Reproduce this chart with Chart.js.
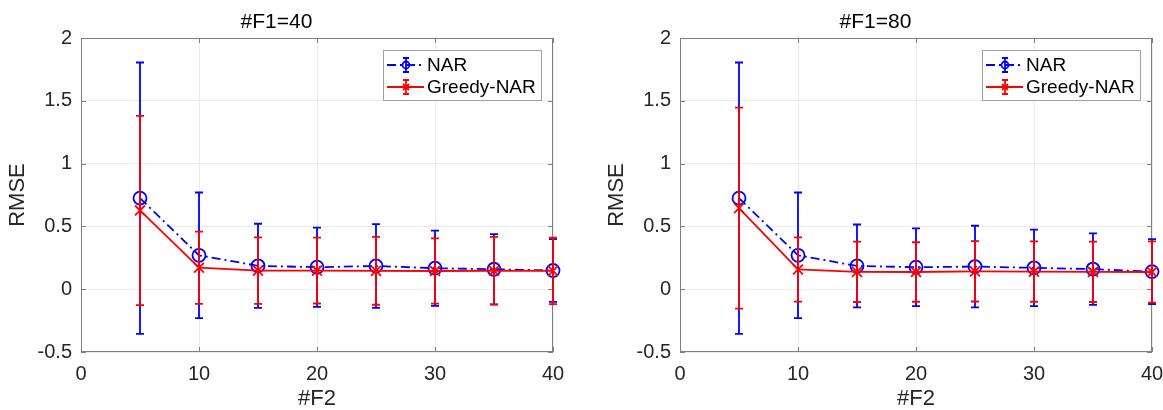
<!DOCTYPE html>
<html>
<head>
<meta charset="utf-8">
<script src="https://cdn.jsdelivr.net/npm/chart.js@4.4.1/dist/chart.umd.min.js"></script>
<style>
  body { margin: 0; background: #fff; }
  #wrap { position: relative; width: 1163px; height: 410px; }
  .pane { position: absolute; top: 0; width: 564px; height: 410px; }
</style>
</head>
<body>
<div id="wrap">
  <div class="pane" style="left:0"><canvas id="chartF1_40" width="564" height="410"></canvas></div>
  <div class="pane" style="left:599px"><canvas id="chartF1_80" width="564" height="410"></canvas></div>
</div>
<script>
// valores
const f2 = [5, 10, 15, 20, 25, 30, 35, 40];
const yTicks = [-0.5, 0, 0.5, 1, 1.5, 2];
const xTicks = [0, 10, 20, 30, 40];

// #F1=40
const narMean40 = [0.725, 0.27, 0.186, 0.175, 0.185, 0.167, 0.159, 0.149];
const narErr40 = [1.08, 0.50, 0.335, 0.315, 0.333, 0.30, 0.28, 0.25];
const greedyMean40 = [0.627, 0.171, 0.148, 0.148, 0.146, 0.145, 0.147, 0.146];
const greedyErr40 = [0.753, 0.288, 0.265, 0.262, 0.27, 0.26, 0.27, 0.265];

// #F1=80
const narMean80 = [0.725, 0.27, 0.185, 0.175, 0.18, 0.170, 0.160, 0.140];
const narErr80 = [1.08, 0.50, 0.33, 0.31, 0.325, 0.305, 0.285, 0.258];
const greedyMean80 = [0.645, 0.157, 0.138, 0.137, 0.142, 0.140, 0.138, 0.137];
const greedyErr80 = [0.80, 0.256, 0.24, 0.237, 0.24, 0.24, 0.24, 0.244];

const FONT = "'Liberation Sans', Arial, Helvetica, sans-serif";
const TXT = '#262626';
const AXIS = '#7f7f7f';
const BLUE = '#0000ff';
const RED = '#ff0000';
const LW = 1.8;

// barras de error dibujadas antes de cada serie
const errorBars = {
    id: 'errorBars',
    beforeDatasetDraw(chart, args) {
        const ds = chart.data.datasets[args.index];
        if (!ds.errors) return;
        const ctx = chart.ctx;
        const y = chart.scales.y;
        ctx.save();
        ctx.strokeStyle = ds.borderColor;
        ctx.lineWidth = LW;
        ctx.setLineDash([]);
        args.meta.data.forEach((pt, i) => {
            const v = ds.data[i].y;
            const e = ds.errors[i];
            const top = y.getPixelForValue(v + e);
            const bot = y.getPixelForValue(v - e);
            ctx.beginPath();
            ctx.moveTo(pt.x, top); ctx.lineTo(pt.x, bot);
            ctx.moveTo(pt.x - 4, top); ctx.lineTo(pt.x + 4, top);
            ctx.moveTo(pt.x - 4, bot); ctx.lineTo(pt.x + 4, bot);
            ctx.stroke();
        });
        ctx.restore();
    }
};

// caja de ejes estilo MATLAB con marcas hacia dentro
const axesBox = {
    id: 'axesBox',
    beforeDatasetsDraw(chart) {
        const { ctx, chartArea: a, scales } = chart;
        ctx.save();
        ctx.strokeStyle = AXIS;
        ctx.lineWidth = 1;
        ctx.strokeRect(a.left + 0.5, a.top + 0.5, a.right - a.left - 1, a.bottom - a.top - 1);
        ctx.beginPath();
        xTicks.forEach(t => {
            const px = Math.round(scales.x.getPixelForValue(t)) + 0.5;
            ctx.moveTo(px, a.bottom); ctx.lineTo(px, a.bottom - 5);
            ctx.moveTo(px, a.top); ctx.lineTo(px, a.top + 5);
        });
        yTicks.forEach(t => {
            const py = Math.round(scales.y.getPixelForValue(t)) + 0.5;
            ctx.moveTo(a.left, py); ctx.lineTo(a.left + 5, py);
            ctx.moveTo(a.right, py); ctx.lineTo(a.right - 5, py);
        });
        ctx.stroke();
        ctx.restore();
    }
};

// leyenda dentro del area, arriba a la derecha
const boxLegend = {
    id: 'boxLegend',
    afterDraw(chart) {
        const { ctx, chartArea: a } = chart;
        const w = 158, h = 50;
        const x0 = a.right - 12 - w, y0 = a.top + 12;
        ctx.save();
        ctx.fillStyle = '#fff';
        ctx.fillRect(x0, y0, w, h);
        ctx.strokeStyle = '#a0a0a0';
        ctx.lineWidth = 1;
        ctx.strokeRect(x0 + 0.5, y0 + 0.5, w, h);
        chart.data.datasets.forEach((ds, i) => {
            const cy = y0 + 15 + i * 22;
            const lx0 = x0 + 4, lx1 = x0 + 41, mx = x0 + 23;
            ctx.strokeStyle = ds.borderColor;
            ctx.lineWidth = LW;
            ctx.setLineDash(ds.borderDash || []);
            ctx.beginPath(); ctx.moveTo(lx0, cy); ctx.lineTo(lx1, cy); ctx.stroke();
            ctx.setLineDash([]);
            ctx.beginPath();
            ctx.moveTo(mx, cy - 7); ctx.lineTo(mx, cy + 7);
            ctx.moveTo(mx - 3, cy - 7); ctx.lineTo(mx + 3, cy - 7);
            ctx.moveTo(mx - 3, cy + 7); ctx.lineTo(mx + 3, cy + 7);
            ctx.stroke();
            ctx.beginPath();
            if (ds.pointStyle === 'circle') {
                ctx.arc(mx, cy, 3.5, 0, Math.PI * 2);
            } else {
                ctx.moveTo(mx - 3, cy - 3); ctx.lineTo(mx + 3, cy + 3);
                ctx.moveTo(mx + 3, cy - 3); ctx.lineTo(mx - 3, cy + 3);
                ctx.moveTo(mx - 3, cy); ctx.lineTo(mx + 3, cy);
            }
            ctx.stroke();
            ctx.fillStyle = '#000';
            ctx.font = '19px ' + FONT;
            ctx.textBaseline = 'middle';
            ctx.fillText(ds.label, x0 + 44, cy + 1);
        });
        ctx.restore();
    }
};

function makeChart(id, title, narMean, narErr, greedyMean, greedyErr) {
    const ctx = document.getElementById(id).getContext('2d');
    return new Chart(ctx, {
        type: 'line',
        data: {
            datasets: [{
                label: 'NAR',
                data: f2.map((x, i) => ({ x: x, y: narMean[i] })),
                errors: narErr,
                borderColor: BLUE,
                backgroundColor: 'rgba(0,0,0,0)',
                borderWidth: LW,
                borderDash: [9, 4, 2, 4],
                pointStyle: 'circle',
                pointRadius: 6.5,
                pointBorderWidth: LW,
                pointBorderColor: BLUE,
                pointBackgroundColor: 'rgba(0,0,0,0)',
                clip: false,
                order: 2
            }, {
                label: 'Greedy-NAR',
                data: f2.map((x, i) => ({ x: x, y: greedyMean[i] })),
                errors: greedyErr,
                borderColor: RED,
                backgroundColor: 'rgba(0,0,0,0)',
                borderWidth: LW,
                pointStyle: 'crossRot',
                pointRadius: 7,
                pointBorderWidth: LW,
                pointBorderColor: RED,
                clip: false,
                order: 1
            }]
        },
        options: {
            responsive: false,
            animation: false,
            devicePixelRatio: 1,
            layout: { padding: { left: 0, right: 11, top: 0, bottom: 0 } },
            plugins: {
                legend: { display: false },
                tooltip: { enabled: false },
                title: {
                    display: true,
                    text: title,
                    color: '#000',
                    font: { family: FONT, size: 21, weight: 'normal', lineHeight: 1.2 },
                    padding: { top: 10, bottom: 2.8 }
                }
            },
            scales: {
                x: {
                    type: 'linear',
                    min: 0, max: 40,
                    afterBuildTicks: s => { s.ticks = xTicks.map(v => ({ value: v })); },
                    afterFit: s => { s.height = 58; s.paddingLeft = 0; s.paddingRight = 0; },
                    grid: { color: '#ebebeb', drawTicks: false },
                    border: { display: false },
                    ticks: { color: TXT, padding: 10, font: { family: FONT, size: 20 }, maxRotation: 0 },
                    title: {
                        display: true, text: '#F2', color: TXT,
                        font: { family: FONT, size: 22, lineHeight: 1 },
                        padding: { top: 0, bottom: 0 }
                    }
                },
                y: {
                    type: 'linear',
                    min: -0.5, max: 2,
                    afterBuildTicks: s => { s.ticks = yTicks.map(v => ({ value: v })); },
                    afterFit: s => { s.width = 81; },
                    grid: { color: '#ebebeb', drawTicks: false },
                    border: { display: false },
                    ticks: {
                        color: TXT, padding: 9, font: { family: FONT, size: 20 },
                        callback: v => String(v)
                    },
                    title: {
                        display: true, text: 'RMSE', color: TXT,
                        font: { family: FONT, size: 22, lineHeight: 1 },
                        padding: { top: 7, bottom: 0 }
                    }
                }
            }
        },
        plugins: [axesBox, errorBars, boxLegend]
    });
}

makeChart('chartF1_40', '#F1=40', narMean40, narErr40, greedyMean40, greedyErr40);
makeChart('chartF1_80', '#F1=80', narMean80, narErr80, greedyMean80, greedyErr80);
</script>
</body>
</html>
